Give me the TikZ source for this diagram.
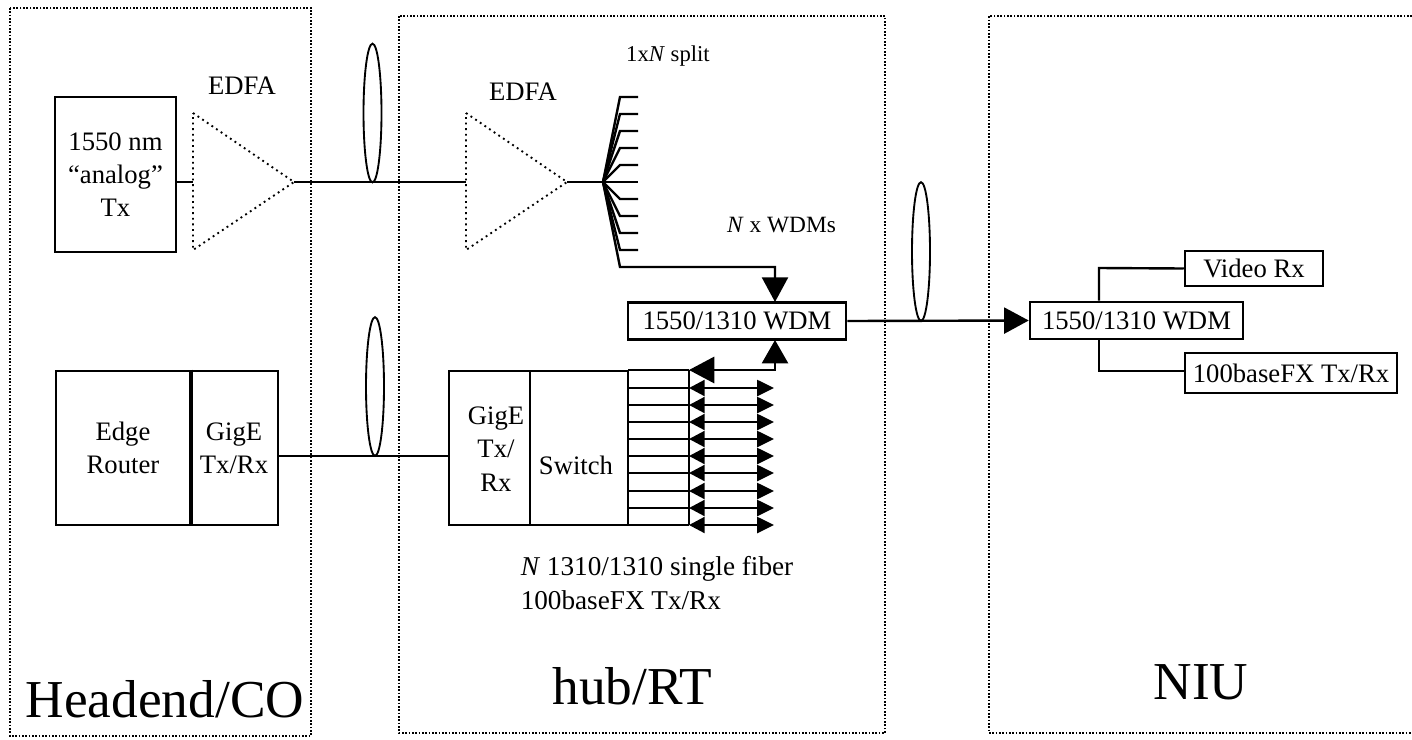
\documentclass[tikz,border=0pt]{standalone}
\usepackage{fontspec}
\setmainfont{Liberation Serif}
\usetikzlibrary{arrows.meta,shapes.geometric}
\tikzset{
 x=0.75pt,y=-0.75pt,
 region/.style={draw,line width=1.2pt,dash pattern=on 1.25pt off 1.25pt},
 amp/.style={draw,line width=1.4pt,dash pattern=on 1.4pt off 2.8pt},
 wire/.style={draw,line width=1.8pt},
 box/.style={draw,line width=1.9pt,inner sep=0pt,anchor=center,align=center,font=\fs{20}{25}},
 lbl/.style={inner sep=0pt,align=center,font=\fs{20}{25}},
 biglbl/.style={inner sep=0pt,font=\fs{40}{44}},
 fiber/.style={draw,line width=1.4pt,ellipse,inner sep=0pt,minimum width=13.5pt,minimum height=104pt},
 bigtip/.style={-{Triangle[length=18.5pt,width=19.5pt]}},
 leftrighttip/.style={{Triangle[length=11.8pt,width=12pt]}-{Triangle[length=12.7pt,width=12pt]}},
 topboth/.style={{Triangle[length=19pt,width=19.7pt]}-{Triangle[length=17.5pt,width=19.5pt]}},
}
\newcommand{\fs}[2]{\fontsize{#1pt}{#2pt}\selectfont}
\begin{document}
\begin{tikzpicture}
\useasboundingbox (0,0) rectangle (1412,739);
% regions
\draw[region] (10,8) rectangle (311,736);
\draw[region] (399,16) rectangle (885,733);
\draw[region] (1412,16) -- (989,16) -- (989,733) -- (1412,733);
\node[biglbl] (l1) at (165,699) {Headend/CO};
\node[biglbl] (l2) at (632.5,686) {hub/RT};
\node[biglbl] (l3) at (1201,682.5) {NIU};
% top-left transmitter and amplifier
\node[box,minimum width=90.75pt,minimum height=116.25pt] (tx) at (115.5,174.5) {1550 nm\\“analog”\\Tx};
\coordinate (a1w) at (193,113);
\coordinate (a1s) at (193,250);
\coordinate (a1t) at (294,182);
\coordinate (a1i) at (193,182);
\draw[amp] (a1w) -- (a1t) -- (a1s) -- cycle;
\node[lbl] (e1) at (242,86) {EDFA};
\draw[wire] (tx.east |- a1i) -- (a1i);
% hub amplifier
\coordinate (a2w) at (466,113);
\coordinate (a2s) at (466,250);
\coordinate (a2t) at (567,182);
\coordinate (a2i) at (466,182);
\draw[amp] (a2w) -- (a2t) -- (a2s) -- cycle;
\node[lbl] (e2) at (523,92) {EDFA};
\draw[wire] (a1t) -- (a2i);
% fibre bundles
\node[fiber] (f1) at (372.5,113) {};
\node[fiber] (f2) at (375,386.5) {};
\node[fiber] (f3) at (921,251.5) {};
% splitter
\coordinate (sp) at (603,182);
\draw[wire] (a2t) -- (sp);
\foreach \y in {97,114,131,148,165,182,199,216,233,250}{
  \draw[wire] (sp) -- (620,\y) -- (638,\y);
}
\node[lbl,font=\fs{17}{20}] (split) at (668,56) {1x\textit{N} split};
\node[lbl,font=\fs{17.5}{21}] (nwdm) at (781.5,225) {\textit{N} x WDMs};
% WDM
\node[box,minimum width=163.5pt,minimum height=27.75pt] (wdm) at (737,321) {1550/1310 WDM};
\coordinate (wi) at (775,302);
\coordinate (wo) at (775,340);
\draw[wire,bigtip] (sp) -- (620,267) -- (775,267) -- (wi);
% Bottom-left
\node[box,minimum width=100.5pt,minimum height=115.5pt] (er) at (123,448) {Edge\\Router};
\node[box,minimum width=66pt,minimum height=115.5pt] (ge) at (234,448) {GigE\\Tx/Rx};
\draw[line width=3pt] (er.north east) -- (er.south east);
% Switch
\node[box,minimum width=60.75pt,minimum height=115.5pt] (g2) at (489.5,448) {};
\node[lbl] (g2l) at (496,449) {GigE\\Tx/\\Rx};
\node[box,minimum width=73.5pt,minimum height=115.5pt] (sw) at (579,448) {};
\node[lbl] (swl) at (576,465) {Switch};
\draw[wire] (ge.east |- 0,456) -- (g2.west |- 0,456);
\coordinate (bar1) at (689,370);
\coordinate (bar2) at (689,525);
\draw[wire] (bar1) -- (bar2);
\foreach \y in {370,388,405,422,439,456,473,491,508,525}{
  \draw[wire] (628,\y) -- (689,\y);
}
\foreach \y in {388,405,422,439,456,473,491,508,525}{
  \draw[wire,leftrighttip] (689,\y) -- (774,\y);
}
\draw[wire,topboth] (bar1) -- (775,370) -- (wo);
\node[lbl,align=left,font=\fs{20.4}{25}] (nf) at (657,583) {\textit{N} 1310/1310 single fiber\\100baseFX Tx/Rx};
% NIU
\node[box,minimum width=159.75pt,minimum height=27.75pt] (w2) at (1136.5,320.5) {1550/1310 WDM};
\draw[wire,bigtip] (wdm.east) -- (w2.west);
\node[box,minimum width=103.5pt,minimum height=26.25pt] (vrx) at (1254,268.5) {Video Rx};
\node[box,minimum width=159pt,minimum height=30pt] (frx) at (1291,373) {100baseFX Tx/Rx};
\draw[wire] (w2.north -| 1099,0) -- (1099,268) -- (vrx.west);
\draw[wire] (w2.south -| 1099,0) -- (1099,371) -- (frx.west |- 0,371);
\end{tikzpicture}
\end{document}
